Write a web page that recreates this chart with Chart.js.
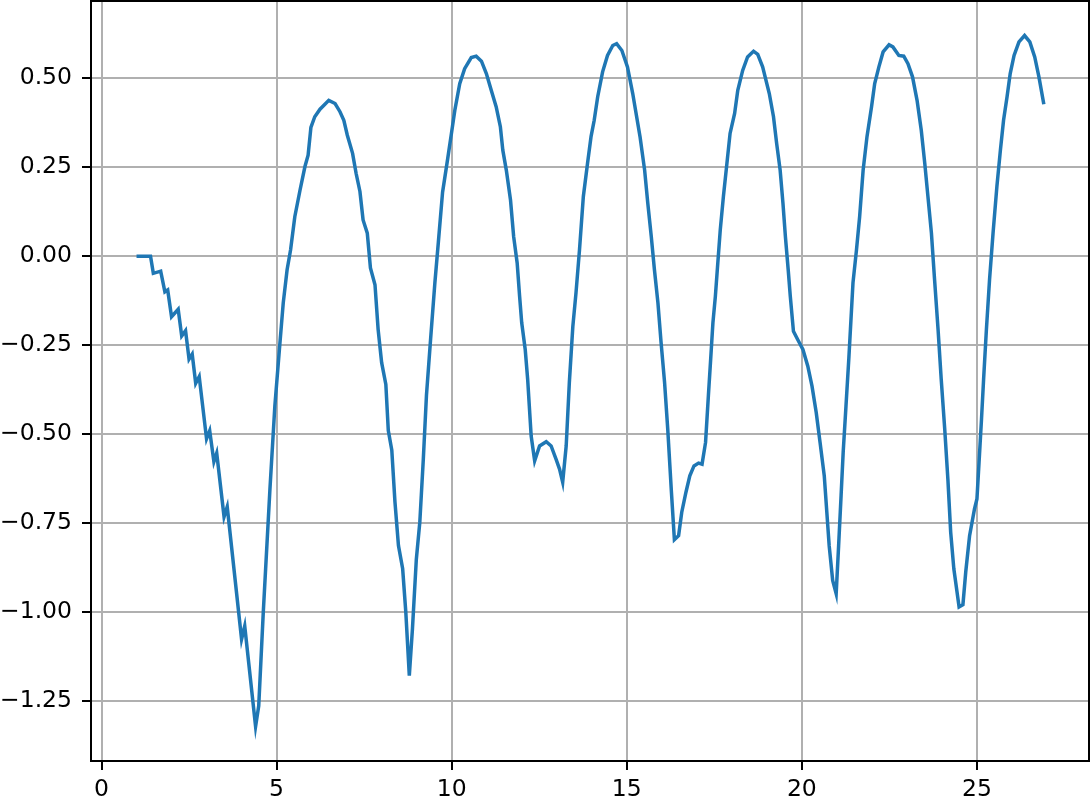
<!DOCTYPE html>
<html>
<head>
<meta charset="utf-8">
<script src="https://cdn.jsdelivr.net/npm/chart.js@4/dist/chart.umd.min.js"></script>
<style>
  html, body { margin: 0; padding: 0; background: #fff; }
  #wrap { width: 1090px; height: 799px; }
</style>
</head>
<body>
<div id="wrap"><canvas id="chart" width="1090" height="799"></canvas></div>
<script>
// values
var xs = [1.0, 1.4, 1.48, 1.69, 1.81, 1.89, 2.0, 2.19, 2.29, 2.40, 2.50, 2.59, 2.69, 2.79, 3.0, 3.09, 3.21, 3.29, 3.50, 3.59,
    4.0, 4.09, 4.40, 4.49, 4.62, 4.81, 4.95, 5.08, 5.19, 5.30, 5.40, 5.52, 5.67, 5.81, 5.90, 5.98, 6.09, 6.24, 6.38, 6.49,
    6.67, 6.81, 6.92, 7.02, 7.17, 7.27, 7.38, 7.47, 7.59, 7.68, 7.81, 7.90, 8.0, 8.12, 8.19, 8.29, 8.38, 8.48, 8.60, 8.69,
    8.79, 8.88, 8.99, 9.09, 9.19, 9.28, 9.40, 9.52, 9.62, 9.74, 9.88, 10.0, 10.09, 10.23, 10.37, 10.56, 10.70, 10.85, 10.99, 11.13,
    11.27, 11.39, 11.46, 11.56, 11.68, 11.77, 11.87, 11.94, 12.0, 12.10, 12.17, 12.27, 12.37, 12.51, 12.70, 12.84, 12.98, 13.08, 13.17, 13.27,
    13.36, 13.46, 13.55, 13.65, 13.76, 13.88, 13.98, 14.07, 14.17, 14.31, 14.45, 14.60, 14.71, 14.86, 15.02, 15.17, 15.38, 15.51, 15.60, 15.70,
    15.79, 15.89, 15.98, 16.08, 16.17, 16.27, 16.36, 16.48, 16.57, 16.69, 16.80, 16.92, 17.05, 17.15, 17.25, 17.33, 17.39, 17.46, 17.53, 17.60,
    17.67, 17.76, 17.86, 17.95, 18.08, 18.17, 18.31, 18.45, 18.62, 18.74, 18.88, 19.07, 19.19, 19.28, 19.38, 19.46, 19.53, 19.61, 19.67, 19.76,
    19.88, 20.03, 20.17, 20.29, 20.41, 20.52, 20.64, 20.78, 20.88, 20.98, 21.05, 21.12, 21.18, 21.26, 21.34, 21.46, 21.56, 21.65, 21.75, 21.86,
    21.99, 22.08, 22.20, 22.32, 22.49, 22.60, 22.77, 22.91, 23.03, 23.16, 23.29, 23.41, 23.51, 23.60, 23.70, 23.79, 23.89, 23.98, 24.08, 24.17,
    24.25, 24.34, 24.49, 24.60, 24.68, 24.79, 24.93, 25.0, 25.06, 25.13, 25.19, 25.27, 25.36, 25.46, 25.57, 25.67, 25.76, 25.86, 25.95, 26.06,
    26.20, 26.36, 26.51, 26.65, 26.77, 26.91];
var ys = [0, 0, -0.048, -0.042, -0.100, -0.095, -0.170, -0.149, -0.224, -0.209, -0.289, -0.275, -0.357, -0.338, -0.513, -0.490, -0.577, -0.553, -0.732, -0.704,
    -1.076, -1.039, -1.321, -1.263, -1.0, -0.654, -0.421, -0.262, -0.131, -0.038, 0.018, 0.111, 0.186, 0.252, 0.284, 0.362, 0.392, 0.413, 0.427, 0.438,
    0.429, 0.406, 0.382, 0.340, 0.289, 0.233, 0.182, 0.102, 0.065, -0.033, -0.080, -0.206, -0.299, -0.360, -0.490, -0.545, -0.690, -0.813, -0.878, -1.0,
    -1.178, -1.046, -0.852, -0.747, -0.570, -0.390, -0.230, -0.075, 0.040, 0.180, 0.270, 0.350, 0.410, 0.485, 0.527, 0.558, 0.562, 0.548, 0.513, 0.466,
    0.420, 0.364, 0.298, 0.242, 0.158, 0.055, -0.019, -0.113, -0.187, -0.262, -0.346, -0.505, -0.575, -0.533, -0.521, -0.533, -0.570, -0.598, -0.635, -0.533,
    -0.355, -0.197, -0.103, 0.018, 0.168, 0.261, 0.336, 0.382, 0.448, 0.518, 0.564, 0.592, 0.597, 0.578, 0.532, 0.457, 0.335, 0.242, 0.149, 0.055,
    -0.038, -0.131, -0.243, -0.355, -0.486, -0.654, -0.796, -0.785, -0.719, -0.663, -0.617, -0.589, -0.581, -0.584, -0.523, -0.393, -0.299, -0.187, -0.113, -0.019,
    0.074, 0.168, 0.261, 0.345, 0.401, 0.466, 0.522, 0.560, 0.576, 0.567, 0.532, 0.457, 0.392, 0.317, 0.242, 0.149, 0.055, -0.038, -0.113, -0.211,
    -0.234, -0.262, -0.309, -0.365, -0.439, -0.523, -0.617, -0.813, -0.911, -0.948, -0.813, -0.673, -0.551, -0.421, -0.290, -0.075, 0.018, 0.111, 0.242, 0.336,
    0.420, 0.485, 0.532, 0.574, 0.594, 0.588, 0.564, 0.562, 0.541, 0.504, 0.438, 0.354, 0.261, 0.168, 0.065, -0.066, -0.206, -0.346, -0.486, -0.626,
    -0.775, -0.878, -0.985, -0.979, -0.887, -0.785, -0.710, -0.682, -0.579, -0.458, -0.346, -0.206, -0.066, 0.065, 0.196, 0.298, 0.382, 0.448, 0.513, 0.564,
    0.602, 0.620, 0.602, 0.560, 0.504, 0.427];

var xTicks = [0, 5, 10, 15, 20, 25];
var yTicks = [-1.25, -1.00, -0.75, -0.50, -0.25, 0.00, 0.25, 0.50];

var points = xs.map(function(x, i) { return { x: x, y: ys[i] }; });

// top and right spines, chart.js only draws the axis borders
var frame = {
    id: 'frame',
    afterDraw: function(chart) {
        var a = chart.chartArea, c = chart.ctx;
        c.save();
        c.strokeStyle = '#000';
        c.lineWidth = 2;
        c.strokeRect(a.left, a.top, a.right - a.left, a.bottom - a.top);
        c.restore();
    }
};

var tickFont = { family: 'DejaVu Sans', size: 23.5 };

new Chart(document.getElementById('chart').getContext('2d'), {
    type: 'scatter',
    data: {
        datasets: [{
            data: points,
            showLine: true,
            borderColor: '#1f77b4',
            borderWidth: 3.5,
            pointRadius: 0,
            tension: 0
        }]
    },
    options: {
        responsive: false,
        animation: false,
        devicePixelRatio: 1,
        layout: { padding: { top: 1, right: 1, left: 0, bottom: 0 } },
        plugins: { legend: { display: false }, tooltip: { enabled: false } },
        scales: {
            x: {
                type: 'linear',
                min: -0.3,
                max: 28.2,
                afterBuildTicks: function(s) { s.ticks = xTicks.map(function(v) { return { value: v }; }); },
                afterFit: function(s) { s.height = 38; s.paddingLeft = 0; s.paddingRight = 0; },
                grid: { color: '#b0b0b0', lineWidth: 2, tickColor: '#000', tickLength: 9, tickWidth: 2 },
                border: { color: '#000', width: 2 },
                ticks: {
                    color: '#000',
                    font: tickFont,
                    padding: 6,
                    maxRotation: 0,
                    callback: function(v) { return String(v); }
                }
            },
            y: {
                type: 'linear',
                min: -1.418,
                max: 0.717,
                afterBuildTicks: function(s) { s.ticks = yTicks.map(function(v) { return { value: v }; }); },
                afterFit: function(s) { s.width = 91; s.paddingTop = 0; s.paddingBottom = 0; },
                grid: { color: '#b0b0b0', lineWidth: 2, tickColor: '#000', tickLength: 9, tickWidth: 2 },
                border: { color: '#000', width: 2 },
                ticks: {
                    color: '#000',
                    font: tickFont,
                    padding: 10,
                    callback: function(v) { return v.toFixed(2).replace('-', '\u2212'); }
                }
            }
        }
    },
    plugins: [frame]
});
</script>
</body>
</html>
